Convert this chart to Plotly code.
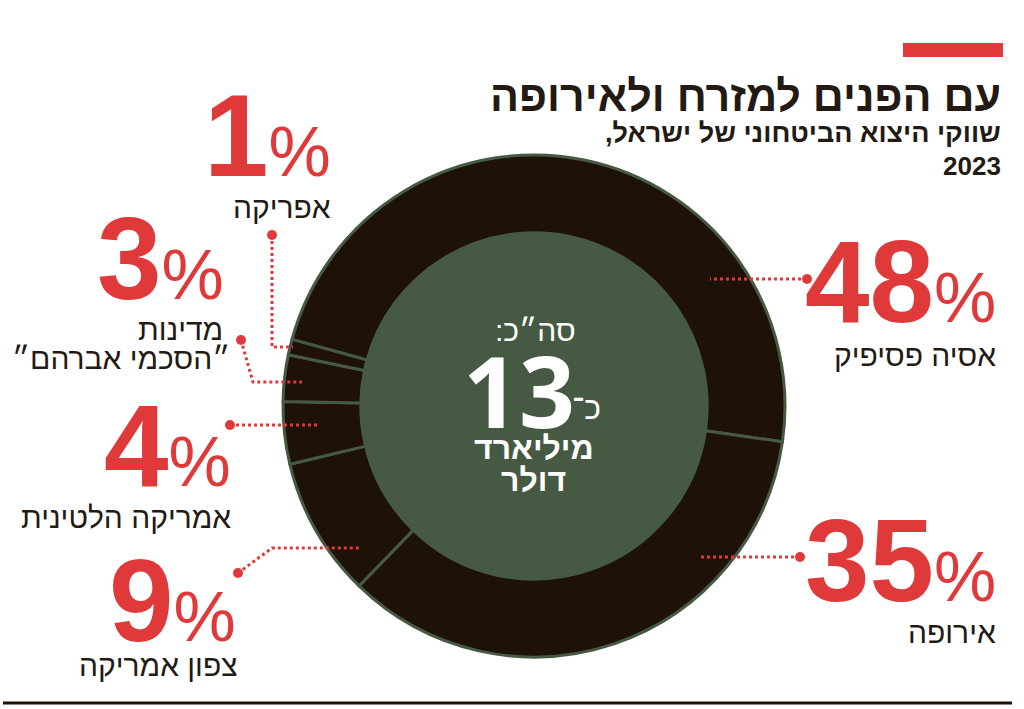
import plotly.graph_objects as go

# ---- data ----
regions = ["אסיה פסיפיק", "אירופה", "צפון אמריקה", "אמריקה הלטינית", "מדינות ״הסכמי אברהם״", "אפריקה"]
shares = [48, 35, 9, 4, 3, 1]
total_label = "13"

W, H = 1024, 709
RED = "#e0393a"
DARK = "#1e1108"
GREEN = "#465a43"
INK = "#231a14"

def px(x):
    return x / W

def py(y):
    return 1 - y / H

cx, cy, R = 534, 406, 251
dom_x = [px(cx - R), px(cx + R)]
dom_y = [py(cy + R), py(cy - R)]

fig = go.Figure()
# green disc behind the ring (shows through the hole)
fig.add_trace(go.Pie(values=[1], labels=["total"], marker=dict(colors=[GREEN], line=dict(width=0)),
                     textinfo="none", hoverinfo="skip", sort=False, showlegend=False,
                     domain=dict(x=dom_x, y=dom_y)))
fig.add_trace(go.Pie(values=shares, labels=regions, hole=0.69, sort=False, direction="clockwise",
                     rotation=-74.6, textinfo="none", showlegend=False,
                     marker=dict(colors=[DARK] * len(shares), line=dict(color=GREEN, width=3)),
                     domain=dict(x=dom_x, y=dom_y)))

PCT_FONT = "Liberation Sans, Arial, sans-serif"
LBL_FONT = "Liberation Sans, DejaVu Sans, sans-serif"

ann = []

def pct(value, xr, yc):
    ann.append(dict(x=px(xr), y=py(yc), xref="paper", yref="paper", xanchor="right", yanchor="middle",
                    text=f"<b>{value}</b><span style='font-size:70px'>%</span>",
                    showarrow=False,
                    font=dict(family=PCT_FONT, size=116, color=RED)))

def lbl(text, xr, yc, size=30):
    ann.append(dict(x=px(xr), y=py(yc), xref="paper", yref="paper", xanchor="right", yanchor="middle",
                    text=text, showarrow=False, font=dict(family=LBL_FONT, size=size, color=INK)))

pct(shares[0], 998, 282); lbl(regions[0], 998, 355)
pct(shares[1], 998, 561); lbl(regions[1], 998, 632)
pct(shares[2], 238, 601); lbl(regions[2], 240, 665)
pct(shares[3], 233, 446); lbl(regions[3], 233, 517)
pct(shares[4], 226, 259); lbl("מדינות", 225, 330); lbl("״הסכמי אברהם״", 232, 358)
pct(shares[5], 333, 136); lbl(regions[5], 333, 207)

# title block
ann.append(dict(x=px(1003), y=py(96), xref="paper", yref="paper", xanchor="right", yanchor="middle",
                text="<b>עם הפנים למזרח ולאירופה</b>", showarrow=False,
                font=dict(family="Liberation Sans, DejaVu Sans, sans-serif", size=43, color=INK)))
ann.append(dict(x=px(1003), y=py(133), xref="paper", yref="paper", xanchor="right", yanchor="middle",
                text="<b>שווקי היצוא הביטחוני של ישראל,\u200f</b>", showarrow=False,
                font=dict(family="Liberation Sans, DejaVu Sans, sans-serif", size=27, color=INK)))
ann.append(dict(x=px(1003), y=py(166), xref="paper", yref="paper", xanchor="right", yanchor="middle",
                text="<b>2023</b>", showarrow=False,
                font=dict(family="Liberation Sans, DejaVu Sans, sans-serif", size=26, color=INK)))

# center text
ann.append(dict(x=px(535), y=py(331), xref="paper", yref="paper", xanchor="center", yanchor="middle",
                text="\u200fסה״כ:\u200f", showarrow=False,
                font=dict(family="Liberation Sans, DejaVu Sans, sans-serif", size=30, color="white")))
ann.append(dict(x=px(519), y=py(390), xref="paper", yref="paper", xanchor="center", yanchor="middle",
                text=f"<b>{total_label}</b>", showarrow=False,
                font=dict(family="Open Sans, Inter, sans-serif", size=98, color="white")))
ann.append(dict(x=px(586), y=py(408), xref="paper", yref="paper", xanchor="center", yanchor="middle",
                text="כ־", showarrow=False,
                font=dict(family="Liberation Sans, DejaVu Sans, sans-serif", size=32, color="white")))
ann.append(dict(x=px(534), y=py(448), xref="paper", yref="paper", xanchor="center", yanchor="middle",
                text="<b>מיליארד</b>", showarrow=False,
                font=dict(family="Liberation Sans, DejaVu Sans, sans-serif", size=32, color="white")))
ann.append(dict(x=px(533), y=py(480), xref="paper", yref="paper", xanchor="center", yanchor="middle",
                text="<b>דולר</b>", showarrow=False,
                font=dict(family="Liberation Sans, DejaVu Sans, sans-serif", size=32, color="white")))

shapes = []
# red bar
shapes.append(dict(type="rect", xref="paper", yref="paper", x0=px(903), x1=px(1003), y0=py(57), y1=py(43),
                   fillcolor=RED, line=dict(width=0)))
# bottom rule
shapes.append(dict(type="line", xref="paper", yref="paper", x0=px(3), x1=px(1012), y0=py(703), y1=py(703),
                   line=dict(color=DARK, width=3)))

def dots(points):
    path = "M " + " L ".join(f"{px(x)},{py(y)}" for x, y in points)
    shapes.append(dict(type="path", xref="paper", yref="paper", path=path,
                       line=dict(color=RED, width=3, dash="3px,3px")))
    x, y = points[0]
    shapes.append(dict(type="circle", xref="paper", yref="paper", xsizemode="pixel", ysizemode="pixel",
                       xanchor=px(x), yanchor=py(y), x0=-5, x1=5, y0=-5, y1=5,
                       fillcolor=RED, line=dict(width=0)))

dots([(272, 235), (272, 347), (293, 347)])
dots([(241, 340), (253, 382), (302, 382)])
dots([(230, 425), (320, 425)])
dots([(238, 573), (272, 548), (360, 548)])
dots([(807, 279), (710, 279)])
dots([(800, 557), (700, 557)])

fig.update_layout(width=W, height=H, margin=dict(l=0, r=0, t=0, b=0),
                  paper_bgcolor="white", plot_bgcolor="white",
                  annotations=ann, shapes=shapes)

fig.write_html("out.html")
